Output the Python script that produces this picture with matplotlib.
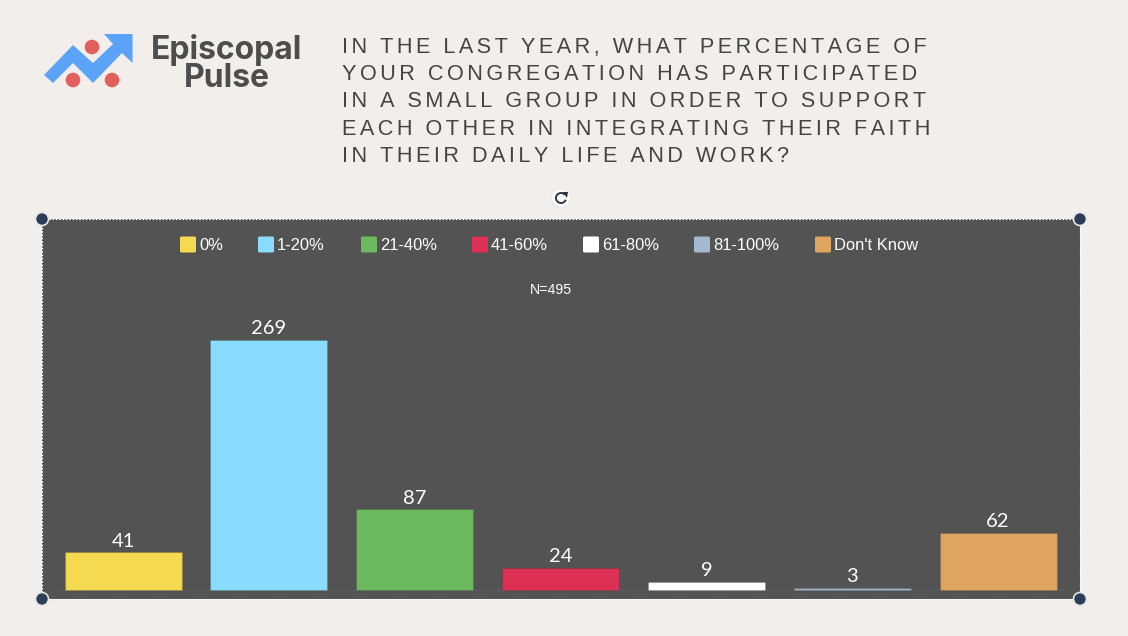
import matplotlib
matplotlib.use('Agg')
import matplotlib.pyplot as plt
from matplotlib.patches import Circle, FancyBboxPatch, Polygon, Arc

categories = ['0%', '1-20%', '21-40%', '41-60%', '61-80%', '81-100%', "Don't Know"]
counts = [41, 269, 87, 24, 9, 3, 62]
colors = ['#f5d951', '#8adcff', '#6cb95f', '#dc3054', '#ffffff', '#a3b9cf', '#dfa45f']
legend_x = [180, 258, 361, 472, 583, 694, 815]

title_lines = [
    'IN THE LAST YEAR, WHAT PERCENTAGE OF',
    'YOUR CONGREGATION HAS PARTICIPATED',
    'IN A SMALL GROUP IN ORDER TO SUPPORT',
    'EACH OTHER IN INTEGRATING THEIR FAITH',
    'IN THEIR DAILY LIFE AND WORK?',
]
title_y = [47.5, 74.5, 101.5, 129.5, 156.5]

BG = '#f1eeeb'
PANEL = '#535353'
W, H = 1128, 636

fig = plt.figure(figsize=(W / 100, H / 100), dpi=100, facecolor=BG)

# chart panel, pixel box 42..1080 by 219..599
ax = fig.add_axes([42 / W, 1 - 599 / H, 1038 / W, 380 / H], facecolor=PANEL)
ax.bar(range(len(counts)), counts, width=0.802, color=colors, edgecolor='#00000018', linewidth=0.8, zorder=3)
ax.axhline(0, color='#5e5e5e', linewidth=0.8, xmin=0.01, xmax=0.985, zorder=2)
for i, v in enumerate(counts):
    ax.text(i, v + 3, str(v), ha='center', va='bottom', color='white', fontsize=14.5,
            family='Lato')
ax.set_xlim(-0.556, 6.562)
ax.set_ylim(-9.13, 399)
ax.set_xticks([])
ax.set_yticks([])
for s in ax.spines.values():
    s.set_color('white')
    s.set_capstyle('butt')
    s.set_linestyle((0, (1.5, 1.5)))
    s.set_linewidth(0.8)

# overlay in pixel coordinates
ov = fig.add_axes([0, 0, 1, 1], facecolor='none')
ov.set_xlim(0, W)
ov.set_ylim(H, 0)
ov.axis('off')

# legend
for x, c, name in zip(legend_x, colors, categories):
    ov.add_patch(FancyBboxPatch((x, 236.5), 16, 16, boxstyle='round,pad=0,rounding_size=1.5',
                                fc=c, ec='none'))
    ov.text(x + 19, 245, name, ha='left', va='center', color='white', fontsize=11.9,
            family='Liberation Sans')
ov.text(551, 289.5, 'N=495', ha='center', va='center', color='white', fontsize=10.2,
        family='Liberation Sans')

# title, hair spaces stand in for the letter spacing
for y, line in zip(title_y, title_lines):
    ov.text(342, y, ('\u200a' * 2).join(line), ha='left', va='center', color='#444444',
            fontsize=15.6, family='Liberation Sans')

# logo
arrow = [(44, 75), (73, 45), (93, 63), (113, 44), (104, 34), (132.5, 34), (132.5, 63), (122, 53),
         (93, 83), (73, 63), (53, 83)]
ov.add_patch(Polygon(arrow, closed=True, fc='#5ba3f8', ec='none'))
for cx, cy in [(92, 47), (73, 80), (112, 80)]:
    ov.add_patch(Circle((cx, cy), 7.3, fc='#e2605c', ec='none'))
ov.text(226.5, 64, 'Episcopal\nPulse', ha='center', va='center', multialignment='center',
        linespacing=0.9, color='#4d4d4d', fontsize=23, family='Inter', weight='bold')

# selection handles
for cx, cy in [(42, 219), (1080, 219), (42, 599), (1080, 599)]:
    ov.add_patch(Circle((cx, cy), 6.5, fc='#2c3e57', ec='#e4e6e8', linewidth=1.2, zorder=5))

# rotate handle
ov.add_patch(Circle((561, 198), 9.5, fc='white', ec='#e8e8e8', linewidth=0.8, zorder=5))
ov.add_patch(Arc((561, 198), 10, 10, theta1=20, theta2=320, color='#2c3440', linewidth=1.4, zorder=6))
ov.add_patch(Polygon([(562.5, 192), (568, 192), (567, 198)], closed=True, fc='#2c3440', ec='none', zorder=6))

fig.savefig('out.png', dpi=100, facecolor=BG)
